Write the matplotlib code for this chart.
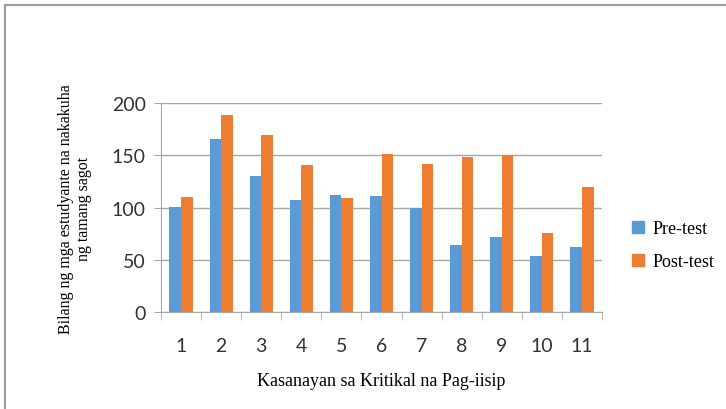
import numpy as np
import matplotlib
matplotlib.use("Agg")
import matplotlib.pyplot as plt
from matplotlib.patches import Rectangle
from matplotlib.lines import Line2D

categories = ["1", "2", "3", "4", "5", "6", "7", "8", "9", "10", "11"]
pre_test = [101, 166, 130, 107, 112, 111, 100, 64, 72, 54, 62]
post_test = [110, 189, 169, 141, 109, 151, 142, 148, 150, 76, 120]
y_ticks = [0, 50, 100, 150, 200]

BLUE = "#5B9BD5"
ORANGE = "#ED7D31"
GRID = "#A6A6A6"

fig = plt.figure(figsize=(7.26, 4.10), dpi=100)

# Outer chart-area border (top and left edges visible).
fig.add_artist(Rectangle((5 / 726, -0.1), 1.2, 1 - 6 / 410 + 0.1,
                         transform=fig.transFigure, fill=False,
                         edgecolor="#9E9E9E", lw=1.5))

ax = fig.add_axes([161 / 726, 1 - 313.3 / 410, 441 / 726, 209.3 / 410])

x = np.arange(len(categories))
w = 0.29
ax.bar(x - w / 2, pre_test, width=w, color=BLUE, zorder=3)
ax.bar(x + w / 2, post_test, width=w, color=ORANGE, zorder=3)

ax.set_xlim(-0.5, len(categories) - 0.5)
ax.set_ylim(0, 200)
ax.set_yticks(y_ticks)
ax.set_xticks(x)
ax.set_xticklabels(categories)
ax.set_xticks(np.arange(-0.5, len(categories)), minor=True)

ax.grid(axis="y", color=GRID, lw=1, zorder=0)
for side in ("top", "right"):
    ax.spines[side].set_visible(False)
ax.spines["left"].set_color(GRID)
ax.spines["bottom"].set_color(GRID)

sans = ["Lato", "DejaVu Sans"]
ax.tick_params(axis="x", which="major", length=0, pad=18, labelsize=14)
ax.tick_params(axis="x", which="minor", length=6, color=GRID)
ax.tick_params(axis="y", length=5, color=GRID, labelsize=14, pad=6)
for lbl in ax.get_xticklabels() + ax.get_yticklabels():
    lbl.set_family(sans)
    lbl.set_color("#333333")

serif = ["Liberation Serif", "DejaVu Serif"]
ax.set_xlabel("Kasanayan sa Kritikal na Pag-iisip", family=serif,
              fontsize=13, labelpad=13)
ax.set_ylabel("Bilang ng mga estudyante na nakakuha\nng tamang sagot",
              family=serif, fontsize=11.5, labelpad=14, linespacing=1.15)

handles = [Line2D([], [], marker="s", ls="", color=BLUE, markersize=8),
           Line2D([], [], marker="s", ls="", color=ORANGE, markersize=8)]
fig.legend(handles, ["Pre-test", "Post-test"], loc="center left",
           bbox_to_anchor=(607 / 726, 1 - 246 / 410), frameon=False,
           prop={"family": serif, "size": 13}, handletextpad=0.0,
           handlelength=1.6, labelspacing=0.9)

fig.savefig("out.png", dpi=100)
